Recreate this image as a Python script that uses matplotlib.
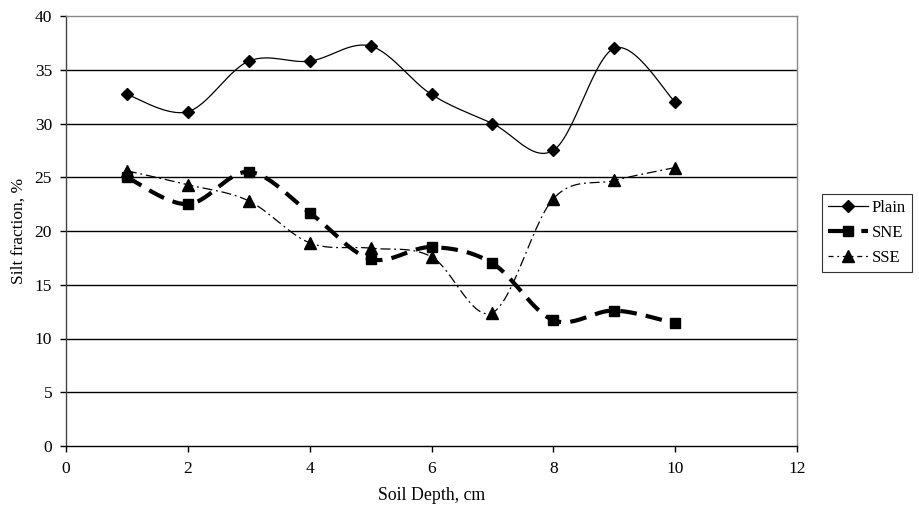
import matplotlib
matplotlib.use("Agg")
import matplotlib.pyplot as plt
import numpy as np

depth = [1, 2, 3, 4, 5, 6, 7, 8, 9, 10]
plain = [32.7, 31.1, 35.8, 35.8, 37.2, 32.7, 30.0, 27.5, 37.0, 32.0]
sne = [25.0, 22.5, 25.5, 21.7, 17.4, 18.5, 17.0, 11.7, 12.6, 11.4]
sse = [25.6, 24.3, 22.8, 18.9, 18.4, 17.6, 12.4, 23.0, 24.7, 25.9]


def smooth(x, y, n=30):
    """Excel-style smoothed line: cubic bezier through the points"""
    x = np.asarray(x, float)
    y = np.asarray(y, float)
    px = np.concatenate([[x[0]], x, [x[-1]]])
    py = np.concatenate([[y[0]], y, [y[-1]]])
    xs, ys = [], []
    t = np.linspace(0, 1, n)
    for i in range(len(x) - 1):
        p0 = np.array([px[i + 1], py[i + 1]])
        p3 = np.array([px[i + 2], py[i + 2]])
        c1 = p0 + (np.array([px[i + 2], py[i + 2]]) - np.array([px[i], py[i]])) / 6
        c2 = p3 - (np.array([px[i + 3], py[i + 3]]) - np.array([px[i + 1], py[i + 1]])) / 6
        b = ((1 - t) ** 3)[:, None] * p0 + (3 * (1 - t) ** 2 * t)[:, None] * c1 \
            + (3 * (1 - t) * t ** 2)[:, None] * c2 + (t ** 3)[:, None] * p3
        xs.extend(b[:, 0])
        ys.extend(b[:, 1])
    return xs, ys


plt.rcParams['font.family'] = ['Liberation Serif', 'DejaVu Serif']

fig = plt.figure(figsize=(9.19, 5.08), dpi=100)
ax = fig.add_axes((66 / 919, 1 - 446 / 508, 731 / 919, 430 / 508))

for yv in range(5, 40, 5):
    ax.axhline(yv, color='black', lw=1.0, zorder=1)

sx, sy = smooth(depth, plain)
ax.plot(sx, sy, color='black', lw=0.9, zorder=3)
ax.plot(depth, plain, ls='none', marker='D', ms=6, color='black', zorder=4)

sx, sy = smooth(depth, sne)
ax.plot(sx, sy, color='black', lw=3, ls=(0, (4, 2.2)), zorder=3)
ax.plot(depth, sne, ls='none', marker='s', ms=7.5, color='black', zorder=4)

sx, sy = smooth(depth, sse)
ax.plot(sx, sy, color='black', lw=0.9, ls=(0, (8, 3, 1.5, 3)), zorder=3)
ax.plot(depth, sse, ls='none', marker='^', ms=8, color='black', zorder=4)

# legend proxies
h1, = ax.plot([], [], color='black', lw=0.9, marker='D', ms=6)
h2, = ax.plot([], [], color='black', lw=3, ls=(0, (6, 2)), marker='s', ms=7.5)
h3, = ax.plot([], [], color='black', lw=0.9, ls=(0, (4, 3, 1.5, 3)), marker='^', ms=8)
leg = fig.legend([h1, h2, h3], ['Plain', 'SNE', 'SSE'], loc='upper left',
                 bbox_to_anchor=(822 / 919, 1 - 194 / 508), fontsize=12,
                 frameon=True, fancybox=False, edgecolor='black',
                 handlelength=2.4, borderpad=0.35, labelspacing=0.55, handletextpad=0.25,
                 borderaxespad=0)
leg.get_frame().set_linewidth(0.8)

ax.set_xlim(0, 12)
ax.set_ylim(0, 40)
ax.set_xticks(range(0, 13, 2))
ax.set_yticks(range(0, 41, 5))
ax.tick_params(direction='out', length=4, width=1, labelsize=12.5, colors='black')
ax.tick_params(axis='x', pad=7)
ax.tick_params(axis='y', pad=6)
ax.spines['left'].set_color('#444444')
ax.spines['bottom'].set_color('black')
ax.spines['top'].set_color('#888888')
ax.spines['right'].set_color('#888888')
for s in ax.spines.values():
    s.set_linewidth(1.0)

ax.set_xlabel('Soil Depth, cm', fontsize=12.8, labelpad=7)
ax.set_ylabel('Silt fraction, %', fontsize=12.5, labelpad=6)

fig.savefig('out.png', dpi=100)
